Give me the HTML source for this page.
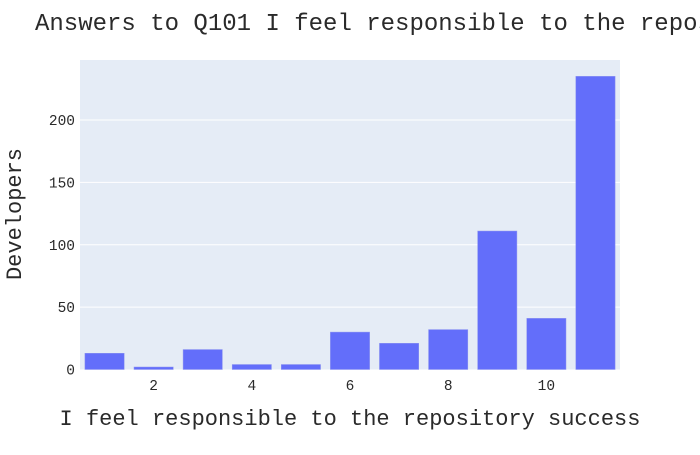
<!DOCTYPE html>
<html><head><meta charset="utf-8"><style>
html,body{margin:0;padding:0;background:#fff;}
svg text{font-family:"Liberation Mono","DejaVu Sans Mono",monospace;fill:#2a2a2a;}
</style></head><body>
<svg id="chart" width="700" height="450">
<rect x="0" y="0" width="700" height="450" fill="#fff"/>
<text x="35" y="30" font-size="24">Answers to Q101 I feel responsible to the repository success</text>
<rect x="80" y="60" width="540" height="309.5" fill="#e5ecf6"/>
<g id="grid"></g>
<g id="bars"></g>
<g id="ticks"></g>
<text x="350" y="425" font-size="22" text-anchor="middle">I feel responsible to the repository success</text>
<text x="0" y="0" font-size="22" text-anchor="middle" transform="translate(21,214) rotate(-90)">Developers</text>
</svg>
<script>
const categories=[1,2,3,4,5,6,7,8,9,10,11];
const values=[13,2,16,4,4,30,21,32,111,41,235];
const yTicks=[0,50,100,150,200];
const xTicks=[2,4,6,8,10];
const NS="http://www.w3.org/2000/svg";
const X0=80,X1=620,Y0=369.5,Y1=60;
function xs(v){return X0+(v-0.5)/11*(X1-X0);}
function ys(v){return Y0-v*1.2475;}
const bw=(X1-X0)/11*0.8;
function mk(tag,attrs,parent){const e=document.createElementNS(NS,tag);for(const k in attrs)e.setAttribute(k,attrs[k]);document.getElementById(parent).appendChild(e);return e;}
yTicks.forEach(t=>{
 if(t>0){const l=mk('line',{x1:X0,x2:X1,y1:ys(t),y2:ys(t),stroke:'#fff','stroke-width':1},'grid');
 
 }
 const tx=mk('text',{x:75,y:ys(t)+5,'font-size':14.5,'text-anchor':'end'},'ticks');
 tx.textContent=t;
 
 
});
xTicks.forEach(t=>{
 const tx=mk('text',{x:xs(t),y:390,'font-size':14.5,'text-anchor':'middle'},'ticks');
 tx.textContent=t;
 
 
});
categories.forEach((c,i)=>{
 const v=values[i];
 const r=mk('rect',{x:xs(c)-bw/2,y:ys(v),width:bw,height:Y0-ys(v),fill:'#636efa',stroke:'#8f96f0','stroke-width':0.5},'bars');
 
 
});
</script>
</body></html>
